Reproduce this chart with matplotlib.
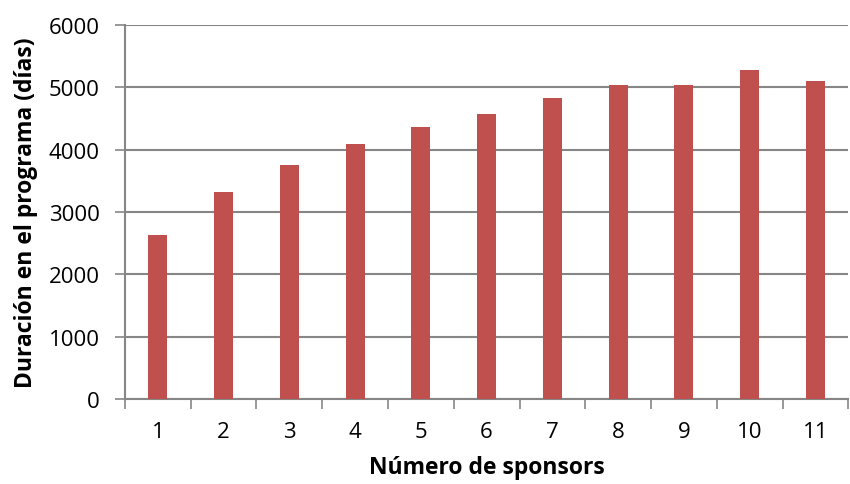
import matplotlib
matplotlib.use("Agg")
import matplotlib.pyplot as plt
import numpy as np

# Programme duration by number of sponsors
sponsors = [1, 2, 3, 4, 5, 6, 7, 8, 9, 10, 11]
duration_days = [2630, 3312, 3751, 4088, 4362, 4566, 4823, 5026, 5037, 5273, 5101]
y_ticks = [0, 1000, 2000, 3000, 4000, 5000, 6000]

plt.rcParams['font.family'] = ['Open Sans', 'DejaVu Sans']

fig = plt.figure(figsize=(8.5, 4.85), dpi=100)
ax = fig.add_axes([0.147, 0.175, 0.851, 0.772])

grid_color = '#868686'
bar_color = '#C0504D'

x = np.arange(len(sponsors)) + 1
ax.bar(x, duration_days, width=0.29, color=bar_color, zorder=3)

ax.set_xlim(0.5, len(sponsors) + 0.5)
ax.set_ylim(0, 6000)

ax.set_yticks(y_ticks)
ax.set_yticklabels([str(v) for v in y_ticks])
ax.yaxis.grid(True, color=grid_color, linewidth=1.5, zorder=0)
ax.set_axisbelow(True)

ax.set_xticks(x)
ax.set_xticklabels([str(s) for s in sponsors])
ax.set_xticks(np.arange(len(sponsors) + 1) + 0.5, minor=True)
ax.tick_params(axis='x', which='major', length=0, pad=16, labelsize=16)
ax.tick_params(axis='x', which='minor', length=7, width=1.2, color=grid_color, direction='out')
ax.tick_params(axis='y', which='major', length=7, width=1.2, color=grid_color, direction='out', pad=11, labelsize=16)

for side in ('top', 'right'):
    ax.spines[side].set_visible(False)
for side in ('left', 'bottom'):
    ax.spines[side].set_color(grid_color)
    ax.spines[side].set_linewidth(1.5)

ax.set_xlabel('Número de sponsors', fontsize=16.5, fontweight='bold', labelpad=9)
ax.set_ylabel('Duración en el programa (días)', fontsize=16.5, fontweight='bold', labelpad=8)

fig.savefig('out.png', dpi=100, facecolor='white')
